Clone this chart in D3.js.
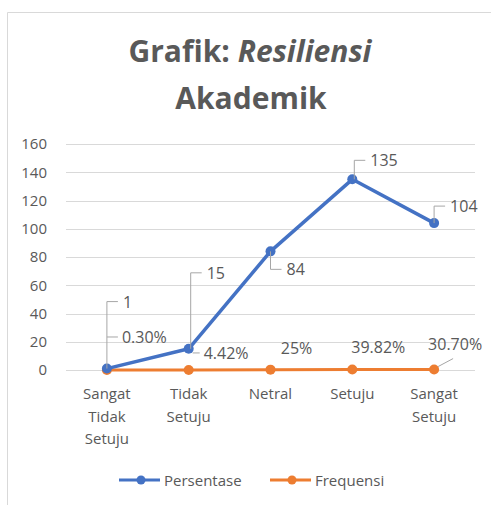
<!DOCTYPE html>
<html>
<head>
<meta charset="utf-8">
<title>Grafik Resiliensi Akademik</title>
<script src="https://d3js.org/d3.v7.min.js"></script>
<style>
  body { margin: 0; background: #fff; }
  text { font-family: "Open Sans", "Noto Sans", sans-serif; fill: #595959; }
</style>
</head>
<body>
<div id="chart"></div>
<script>
// data
const categories = [["Sangat", "Tidak", "Setuju"], ["Tidak", "Setuju"], ["Netral"], ["Setuju"], ["Sangat", "Setuju"]];
const persentase = [1, 15, 84, 135, 104];
const frequensi = [0.003, 0.0442, 0.25, 0.3982, 0.307];
const frequensiLabels = ["0.30%", "4.42%", "25%", "39.82%", "30.70%"];
const yTicks = [0, 20, 40, 60, 80, 100, 120, 140, 160];

const W = 491, H = 505;
const margin = { top: 144, left: 66, right: 16, bottom: 135 };
const blue = "#4472C4", orange = "#ED7D31";

const svg = d3.select("#chart").append("svg")
  .attr("width", W).attr("height", H);

// chart frame
svg.append("path")
  .attr("d", `M7.5,${H}V12.5H${W}`)
  .attr("fill", "none").attr("stroke", "#d9d9d9");

// title
const title = svg.append("text")
  .attr("x", 250).attr("y", 62)
  .attr("text-anchor", "middle")
  .style("font-size", "30px").style("font-weight", "bold");
title.append("tspan").text("Grafik: ");
title.append("tspan").style("font-style", "italic").text("Resiliensi");
svg.append("text")
  .attr("x", 251).attr("y", 109)
  .attr("text-anchor", "middle")
  .style("font-size", "30px").style("font-weight", "bold")
  .text("Akademik");

const x = d3.scaleBand()
  .domain(d3.range(categories.length))
  .range([margin.left, W - margin.right]);
const y = d3.scaleLinear()
  .domain([0, 160])
  .range([H - margin.bottom, margin.top]);

// grid
svg.append("g")
  .selectAll("line")
  .data(yTicks)
  .join("line")
  .attr("x1", margin.left).attr("x2", W - margin.right)
  .attr("y1", d => Math.round(y(d)) + 0.5).attr("y2", d => Math.round(y(d)) + 0.5)
  .attr("stroke", "#d9d9d9");

// y axis labels
const yAxis = svg.append("g")
  .attr("transform", `translate(${margin.left - 19},0)`)
  .call(d3.axisLeft(y).tickValues(yTicks).tickSize(0).tickPadding(0));
yAxis.select(".domain").remove();
yAxis.selectAll("text")
  .style("font-size", "15px")
  .attr("fill", "#595959")
  .style("font-family", "'Open Sans', sans-serif");

// x axis labels
const xLab = svg.append("g")
  .selectAll("text")
  .data(categories)
  .join("text")
  .attr("x", (d, i) => x(i) + x.bandwidth() / 2)
  .attr("y", 399)
  .attr("text-anchor", "middle")
  .style("font-size", "15px");
xLab.selectAll("tspan")
  .data(d => d)
  .join("tspan")
  .attr("x", function () { return d3.select(this.parentNode).attr("x"); })
  .attr("dy", (d, i) => i === 0 ? 0 : 22.5)
  .text(d => d);

const cx = i => x(i) + x.bandwidth() / 2;
const line = d3.line().x((d, i) => cx(i)).y(d => y(d));

// orange series
svg.append("path")
  .datum(frequensi)
  .attr("d", line)
  .attr("fill", "none").attr("stroke", orange).attr("stroke-width", 3)
  .attr("stroke-linejoin", "round");
svg.append("g").selectAll("circle")
  .data(frequensi).join("circle")
  .attr("cx", (d, i) => cx(i)).attr("cy", d => y(d))
  .attr("r", 5).attr("fill", orange);

// blue series
svg.append("path")
  .datum(persentase)
  .attr("d", line)
  .attr("fill", "none").attr("stroke", blue).attr("stroke-width", 3.5)
  .attr("stroke-linejoin", "round");
svg.append("g").selectAll("circle")
  .data(persentase).join("circle")
  .attr("cx", (d, i) => cx(i)).attr("cy", d => y(d))
  .attr("r", 5).attr("fill", blue);

// data labels with leader lines (offsets in px from the point)
const blueOff = [[0, -67], [2, -76], [0, 18], [2, -19], [0, -17]];
const orangeOff = [[0, -33], [4, -17], null, null, [19, -11]];
const labelsG = svg.append("g");
const leader = "#a6a6a6";

persentase.forEach((v, i) => {
  const px = cx(i), py = y(v);
  const [dx, dy] = blueOff[i];
  const ex = px + dx, ey = py + dy;
  labelsG.append("path")
    .attr("d", `M${px + dx},${py}V${ey}H${ex + 11}`)
    .attr("fill", "none").attr("stroke", leader);
  labelsG.append("text")
    .attr("x", ex + 16).attr("y", ey + 6)
    .style("font-size", "16px")
    .text(v);
});

frequensi.forEach((v, i) => {
  const px = cx(i), py = y(v);
  const off = orangeOff[i];
  if (off === null) {
    labelsG.append("text")
      .attr("x", px + 26).attr("y", py - 16)
      .attr("text-anchor", "middle")
      .style("font-size", "16px")
      .text(frequensiLabels[i]);
    return;
  }
  const [dx, dy] = off;
  if (i === 4) {
    labelsG.append("line")
      .attr("x1", px + 4).attr("y1", py - 3)
      .attr("x2", px + dx).attr("y2", py + dy)
      .attr("stroke", leader);
    labelsG.append("text")
      .attr("x", px + 21).attr("y", py - 20)
      .attr("text-anchor", "middle")
      .style("font-size", "16px")
      .text(frequensiLabels[i]);
  } else {
    labelsG.append("path")
      .attr("d", `M${px + dx},${py + dy}H${px + 11}`)
      .attr("fill", "none").attr("stroke", leader);
    labelsG.append("text")
      .attr("x", px + 15).attr("y", py + dy + 6)
      .style("font-size", "16px")
      .text(frequensiLabels[i]);
  }
});

// legend
const legend = [["Persentase", blue, 119], ["Frequensi", orange, 270]];
const lg = svg.append("g");
legend.forEach(([name, color, lx]) => {
  lg.append("line")
    .attr("x1", lx).attr("x2", lx + 41).attr("y1", 480).attr("y2", 480)
    .attr("stroke", color).attr("stroke-width", 3);
  lg.append("circle")
    .attr("cx", lx + 22).attr("cy", 480).attr("r", 4.5).attr("fill", color);
  lg.append("text")
    .attr("x", lx + 45).attr("y", 486)
    .style("font-size", "15px")
    .text(name);
});
</script>
</body>
</html>
